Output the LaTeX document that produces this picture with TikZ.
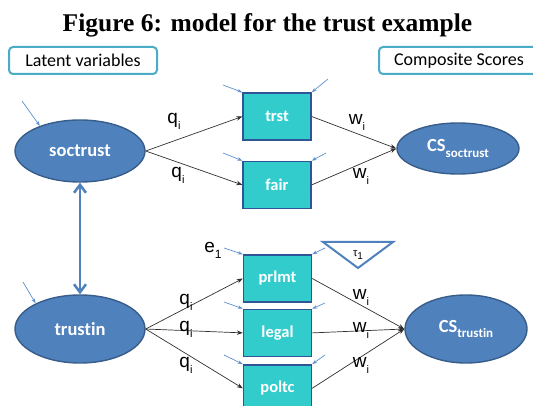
\documentclass[tikz,border=0pt]{standalone}
\usepackage{fontspec}
\setmainfont{Liberation Serif}
\newfontfamily\calfont[Ligatures=NoCommon]{Carlito}
\newfontfamily\lblfont{Liberation Sans}
\usepackage{xcolor}
\usetikzlibrary{arrows.meta,positioning,shapes.geometric}

\definecolor{ellfill}{HTML}{4F81BD}
\definecolor{ellline}{HTML}{385D8A}
\definecolor{boxfill}{HTML}{33CCCC}
\definecolor{boxline}{HTML}{2F5597}
\definecolor{headline}{HTML}{4BACC6}
\definecolor{errblue}{HTML}{5B8FD0}
\definecolor{pathgray}{HTML}{303030}

% subscript with its own size
\newcommand{\sublab}[2]{\raisebox{-0.6ex}{\fontsize{#1}{#1}\selectfont #2}}

\begin{document}
\begin{tikzpicture}[
  x=1pt, y=-1pt,
  latent/.style={ellipse, draw=ellline, line width=1.4pt, fill=ellfill, text=white, inner sep=0pt, font=\calfont\bfseries\fontsize{18.5}{20}\selectfont},
  indic/.style={rectangle, draw=boxline, line width=1.4pt, fill=boxfill, text=white, minimum width=68pt, minimum height=47pt, inner sep=0pt, font=\calfont\bfseries\fontsize{16.5}{18}\selectfont},
  header/.style={draw=headline, line width=2pt, rounded corners=4pt, fill=white, minimum height=27pt, inner sep=0pt, font=\calfont\fontsize{18}{20}\selectfont},
  load/.style={-{Stealth[length=6pt,width=4.5pt]}, line width=0.7pt, draw=pathgray},
  err/.style={-{Stealth[length=5pt,width=3.5pt]}, line width=0.7pt, draw=errblue},
  corr/.style={{Straight Barb[length=8pt,width=12pt]}-{Straight Barb[length=8pt,width=12pt]}, line width=2.5pt, draw=ellfill},
  coef/.style={font=\lblfont\fontsize{19}{20}\selectfont, inner sep=0pt}
]
\useasboundingbox (0,0) rectangle (533,406);

\node[font=\bfseries\fontsize{25.5}{28}\selectfont, anchor=base] (title) at (267.5,32) {Figure 6: model for the trust example};

\node[header, minimum width=148pt] (latvars) at (83,60.5) {Latent variables};
\node[header, minimum width=160pt, anchor=west] (compscores) at (378,60.5) {Composite Scores};

% latent variables and composite scores
\node[latent, minimum width=130pt, minimum height=62pt] (soctrust) at (80,151) {soctrust};
\node[latent, minimum width=130pt, minimum height=68pt] (trustin) at (80,329) {trustin};
\node[latent, minimum width=122pt, minimum height=51pt] (cssoc) at (458,148.5) {CS\sublab{13}{soctrust}};
\node[latent, minimum width=122pt, minimum height=68pt] (cstrustin) at (466,329) {CS\sublab{13}{trustin}};

% indicators
\node[indic] (trst) at (277,116.5) {trst};
\node[indic, below=20pt of trst] (fair) {fair};
\node[indic] (prlmt) at (277.5,278.5) {prlmt};
\node[indic, below=6pt of prlmt] (legal) {legal};
\node[indic, below=7pt of legal] (poltc) {poltc};

% threshold
\draw[draw=ellfill, line width=2pt, line join=miter] (323,242) coordinate (tauA) -- (393,242) -- (358,268) -- cycle;
\node[coef, font=\lblfont\fontsize{11}{12}\selectfont] (tau) at (358,255) {τ\sublab{10}{1}};

\draw[corr] (soctrust.south) -- (trustin.north);

\draw[load] (soctrust.east) -- (trst.west);
\draw[load] (soctrust.east) -- (fair.west);
\draw[load] (trustin.east) -- (prlmt.west);
\draw[load] (trustin.east) -- (legal.west);
\draw[load] (trustin.east) -- (poltc.west);
\draw[load] (trst.east) -- (cssoc.west);
\draw[load] (fair.east) -- (cssoc.west);
\draw[load] (prlmt.east) -- (cstrustin.west);
\draw[load] (legal.east) -- (cstrustin.west);
\draw[load] (poltc.east) -- (cstrustin.west);

% loading and weight labels
\node[coef] (q1) at (174,121.5) {q\sublab{11}{i}};
\node[coef] (q2) at (178,175) {q\sublab{11}{i}};
\node[coef] (w1) at (357,122) {w\sublab{11}{i}};
\node[coef] (w2) at (361,176) {w\sublab{11}{i}};
\node[coef] (q3) at (186,302) {q\sublab{11}{i}};
\node[coef] (q4) at (186,329) {q\sublab{11}{i}};
\node[coef] (q5) at (186,365) {q\sublab{11}{i}};
\node[coef] (w3) at (361,297) {w\sublab{11}{i}};
\node[coef] (w4) at (361,330) {w\sublab{11}{i}};
\node[coef] (w5) at (361,365) {w\sublab{11}{i}};
\node[coef] (e1) at (213,250) {e\sublab{12}{1}};

% error terms
\coordinate (soc-e) at (22,101);
\coordinate (trin-e) at (23,282);
\coordinate (trst-l) at (223,85);
\coordinate (trst-r) at (328,79);
\coordinate (fair-l) at (223,153);
\coordinate (fair-r) at (326,153);
\coordinate (prlmt-l) at (224,248);
\coordinate (prlmt-r) at (325,248);
\coordinate (legal-l) at (224,302);
\coordinate (legal-r) at (325,303);
\coordinate (poltc-l) at (224,355);
\coordinate (poltc-r) at (325,355);
\draw[err] (soc-e) -- (soctrust.148);
\draw[err] (trin-e) -- (trustin.150);
\draw[err] (trst-l) -- (trst.north west);
\draw[err] (trst-r) -- (trst.north east);
\draw[err] (fair-l) -- (fair.north west);
\draw[err] (fair-r) -- (fair.north east);
\draw[err] (prlmt-l) -- (prlmt.north west);
\draw[err] (prlmt-r) -- (prlmt.north east);
\draw[err] (legal-l) -- (legal.north west);
\draw[err] (legal-r) -- (legal.north east);
\draw[err] (poltc-l) -- (poltc.north west);
\draw[err] (poltc-r) -- (poltc.north east);
\end{tikzpicture}
\end{document}
